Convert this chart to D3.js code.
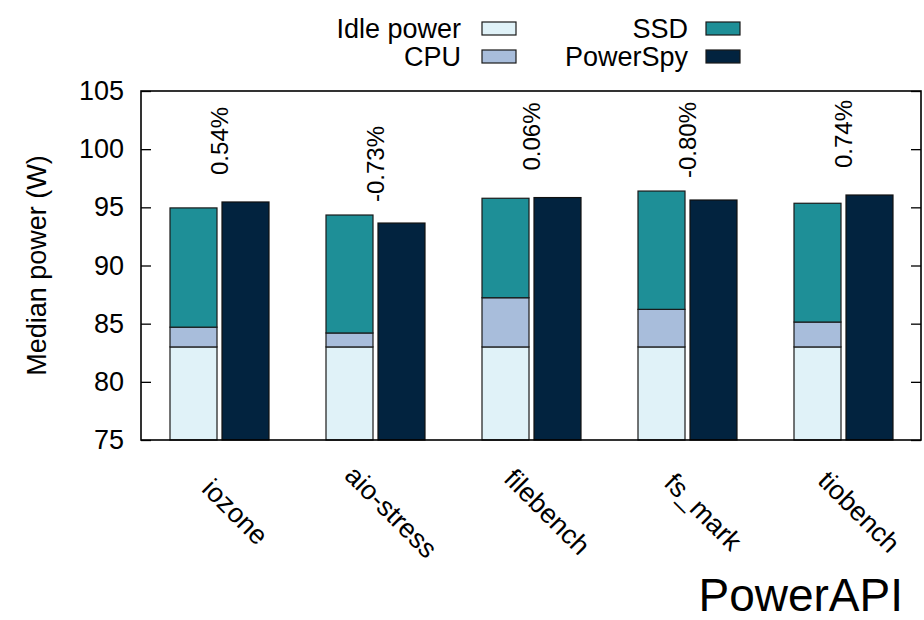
<!DOCTYPE html>
<html>
<head>
<meta charset="utf-8">
<script src="https://cdn.jsdelivr.net/npm/d3@7"></script>
<style>
  html, body { margin: 0; padding: 0; background: #fff; }
  svg { display: block; font-family: "Liberation Sans", Arial, Helvetica, sans-serif; }
</style>
</head>
<body>
<svg id="chart" width="924" height="620"></svg>
<script>
// Benchmarks
const categories = ["iozone", "aio-stress", "filebench", "fs_mark", "tiobench"];
// Stacked PowerAPI estimate components (W)
const idlePower = [83.0, 83.0, 83.0, 83.0, 83.0];
const cpuPower  = [1.70, 1.20, 4.23, 3.23, 2.14];
const ssdPower  = [10.25, 10.14, 8.55, 10.17, 10.21];
// Wall-meter measurement (W)
const powerSpy  = [95.46, 93.65, 95.84, 95.63, 96.06];
// Relative error labels
const diffLabels = ["0.54%", "-0.73%", "0.06%", "-0.80%", "0.74%"];
const yTicks = [75, 80, 85, 90, 95, 100, 105];

const colors = {
  "Idle power": "#e0f2f8",
  "CPU": "#a8bddb",
  "SSD": "#1e8f97",
  "PowerSpy": "#02233f"
};

const svg = d3.select("#chart");
const m = { left: 141, right: 921, top: 91, bottom: 440 };

const x = d3.scaleBand().domain(categories).range([m.left, m.right]).padding(0);
const sub = d3.scaleBand().domain(["stack", "meter"]).range([29, 128]).paddingInner(0.096).paddingOuter(0);
// clamped so bars that start at zero are cut at the axis floor
const y = d3.scaleLinear().domain([75, 105]).range([m.bottom, m.top]).clamp(true);

// Stacked segments
const rows = categories.map((c, i) => ({
  cat: c, "Idle power": idlePower[i], "CPU": cpuPower[i], "SSD": ssdPower[i]
}));
const layers = d3.stack().keys(["Idle power", "CPU", "SSD"])(rows);

const plot = svg.append("g");

layers.forEach(layer => {
  plot.selectAll(null)
    .data(layer)
    .join("rect")
    .attr("x", d => x(d.data.cat) + sub("stack"))
    .attr("width", sub.bandwidth())
    .attr("y", d => y(d[1]))
    .attr("height", d => y(d[0]) - y(d[1]))
    .attr("fill", colors[layer.key])
    .attr("stroke", "#1a1a1a")
    .attr("stroke-width", 1.2);
});

plot.selectAll(".meter")
  .data(categories)
  .join("rect")
  .attr("class", "meter")
  .attr("x", c => x(c) + sub("meter"))
  .attr("width", sub.bandwidth())
  .attr("y", (c, i) => y(powerSpy[i]))
  .attr("height", (c, i) => y(0) - y(powerSpy[i]))
  .attr("fill", colors["PowerSpy"])
  .attr("stroke", "#111")
  .attr("stroke-width", 1.2);

// Relative difference labels
plot.selectAll(".diff")
  .data(categories)
  .join("text")
  .attr("class", "diff")
  .attr("transform", (c, i) => {
    const top = Math.max(idlePower[i] + cpuPower[i] + ssdPower[i], powerSpy[i]);
    const neg = diffLabels[i].startsWith("-");
    const cx = x(c) + x.bandwidth() / 2;
    return `translate(${cx + 8.5},${y(top) - (neg ? 13 : 27)}) rotate(-90)`;
  })
  .attr("text-anchor", "start")
  .attr("font-size", 24)
  .attr("fill", "#000")
  .text((c, i) => diffLabels[i]);

// Axes
const yAxis = d3.axisLeft(y).tickValues(yTicks).tickSize(-10).tickPadding(17);
const gy = svg.append("g").attr("transform", `translate(${m.left},0)`).call(yAxis);
gy.select(".domain").remove();
gy.selectAll("line").attr("stroke", "#000").attr("stroke-width", 1.3);
gy.selectAll("text").attr("font-size", 27).attr("fill", "#000")
  .attr("font-family", "'Liberation Sans', Arial, sans-serif");

const yAxisR = d3.axisRight(y).tickValues(yTicks).tickSize(-10).tickFormat("");
const gyr = svg.append("g").attr("transform", `translate(${m.right},0)`).call(yAxisR);
gyr.select(".domain").remove();
gyr.selectAll("line").attr("stroke", "#000").attr("stroke-width", 1.3);

// Frame
svg.append("rect")
  .attr("x", m.left).attr("y", m.top)
  .attr("width", m.right - m.left).attr("height", m.bottom - m.top)
  .attr("fill", "none").attr("stroke", "#000").attr("stroke-width", 1.6);

// Category labels
svg.selectAll(".xlab")
  .data(categories)
  .join("text")
  .attr("class", "xlab")
  .attr("transform", c => `translate(${x(c) + x.bandwidth() / 2 + 16},512) rotate(45)`)
  .attr("text-anchor", "middle")
  .attr("dominant-baseline", "central")
  .attr("font-size", 27)
  .attr("fill", "#000")
  .text(c => c);

// Y axis title
svg.append("text")
  .attr("transform", `translate(46,${(m.top + m.bottom) / 2}) rotate(-90)`)
  .attr("text-anchor", "middle")
  .attr("font-size", 27)
  .attr("fill", "#000")
  .text("Median power (W)");

// Legend (two columns)
const legendItems = [
  { name: "Idle power", col: 0, row: 0 },
  { name: "CPU", col: 0, row: 1 },
  { name: "SSD", col: 1, row: 0 },
  { name: "PowerSpy", col: 1, row: 1 }
];
const colText = [461, 688];
const colBox = [482, 706];
const rowMid = [28.5, 56.5];
const lg = svg.append("g");
legendItems.forEach(it => {
  lg.append("text")
    .attr("x", colText[it.col]).attr("y", rowMid[it.row] + 9)
    .attr("text-anchor", "end")
    .attr("font-size", 27)
    .attr("fill", "#000")
    .text(it.name);
  lg.append("rect")
    .attr("x", colBox[it.col]).attr("y", rowMid[it.row] - 6.5)
    .attr("width", 34).attr("height", 13)
    .attr("fill", colors[it.name])
    .attr("stroke", "#1a1a1a").attr("stroke-width", 1.2);
});

// Chart caption
svg.append("text")
  .attr("x", 903).attr("y", 611)
  .attr("text-anchor", "end")
  .attr("font-size", 46)
  .attr("fill", "#000")
  .text("PowerAPI");
</script>
</body>
</html>
